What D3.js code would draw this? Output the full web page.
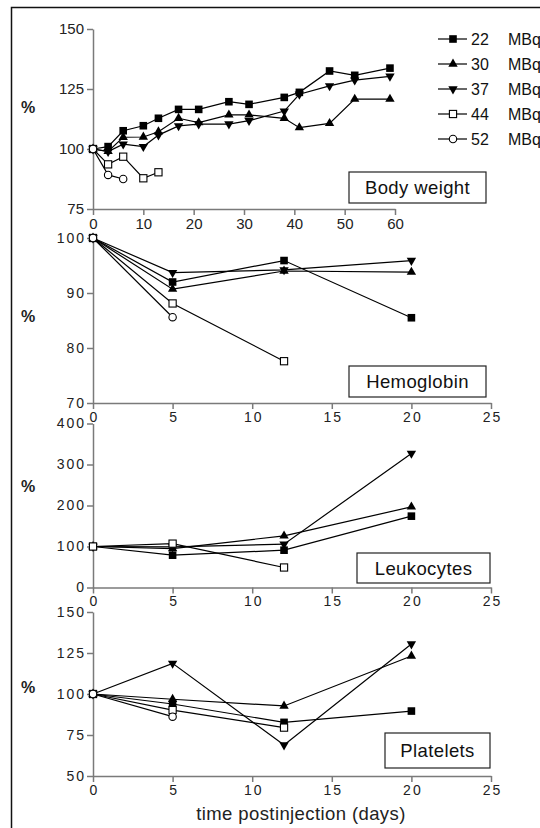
<!DOCTYPE html>
<html>
<head>
<meta charset="utf-8">
<script src="https://cdn.jsdelivr.net/npm/d3@7"></script>
<style>
  body { margin: 0; background: #fff; }
  svg { display: block; font-family: Arial, "Liberation Sans", sans-serif; }
  .axis path, .axis line { stroke: #7a7a7a; stroke-width: 1.5; }
  .axis text { fill: #222; }
</style>
</head>
<body>
<div id="chart"></div>
<script>
// dose groups (MBq)
var doses = ["22", "30", "37", "44", "52"];

// body weight, days postinjection
var bwDays = [0, 3, 6, 10, 13, 17, 21, 27, 31, 38, 41, 47, 52, 59];
var bw22 = [100, 101, 107.6, 109.7, 112.8, 116.5, 116.5, 119.7, 118.6, 121.5, 123.6, 132.5, 130.7, 133.7];
var bw30 = [100, 99, 104.9, 105, 107.2, 112.8, 111, 114.2, 114.2, 112.8, 108.9, 110.7, 120.8, 120.8];
var bw37 = [100, 98.9, 102, 101, 105.8, 109.6, 110.4, 110.4, 111.8, 115.8, 122.8, 126.3, 128.7, 130.3];
var bw44 = [100, 93.6, 96.8, 87.8, 90.3];
var bw52 = [100, 89.2, 87.5];

// blood values, days postinjection
var bloodDays = [0, 5, 12, 20];
var hb22 = [100, 92, 95.9, 85.5];
var hb30 = [100, 90.7, 94, 93.8];
var hb37 = [100, 93.7, 94.2, 95.9];
var hb44 = [100, 88.1, 77.6];
var hb52 = [100, 85.6];

var lk22 = [100, 78.8, 91, 174];
var lk30 = [100, 95, 126, 196.7];
var lk37 = [100, 99, 105.6, 327];
var lk44 = [100, 107, 48.8];

var pl22 = [100, 93.9, 82.7, 89.6];
var pl30 = [100, 96.8, 92.7, 123.2];
var pl37 = [100, 118.7, 68.9, 130.5];
var pl44 = [100, 90.2, 79.5];
var pl52 = [100, 86.2];

// tick labels
var bwXTicks = [0, 10, 20, 30, 40, 50, 60];
var bwYTicks = [75, 100, 125, 150];
var bloodXTicks = [0, 5, 10, 15, 20, 25];
var hbYTicks = [70, 80, 90, 100];
var lkYTicks = [0, 100, 200, 300, 400];
var plYTicks = [50, 75, 100, 125, 150];

var svgWidth = 540, svgHeight = 828;
var svg = d3.select("#chart").append("svg")
  .attr("width", svgWidth)
  .attr("height", svgHeight);

// outer frame (runs off the right and bottom edges)
svg.append("rect")
  .attr("x", 11.5).attr("y", 7.5)
  .attr("width", 600).attr("height", 900)
  .attr("fill", "none").attr("stroke", "#111").attr("stroke-width", 1.5);

// marker shapes per dose
function drawMarker(g, dose, x, y) {
  if (dose === "22") {
    g.append("rect").attr("x", x - 3.8).attr("y", y - 3.8).attr("width", 7.6).attr("height", 7.6).attr("fill", "#000");
  } else if (dose === "30") {
    g.append("path").attr("d", d3.symbol().type(d3.symbolTriangle).size(38)())
      .attr("transform", `translate(${x},${y})`).attr("fill", "#000");
  } else if (dose === "37") {
    g.append("path").attr("d", d3.symbol().type(d3.symbolTriangle).size(38)())
      .attr("transform", `translate(${x},${y}) rotate(180)`).attr("fill", "#000");
  } else if (dose === "44") {
    g.append("rect").attr("x", x - 3.6).attr("y", y - 3.6).attr("width", 7.2).attr("height", 7.2)
      .attr("fill", "#fff").attr("stroke", "#000").attr("stroke-width", 1.1);
  } else {
    g.append("circle").attr("cx", x).attr("cy", y).attr("r", 3.7)
      .attr("fill", "#fff").attr("stroke", "#000").attr("stroke-width", 1.1);
  }
}

function panel(opt) {
  var g = svg.append("g");
  var x = d3.scaleLinear().domain(opt.xDomain).range(opt.xRange);
  var y = d3.scaleLinear().domain(opt.yDomain).range(opt.yRange);

  g.append("g").attr("class", "axis")
    .attr("transform", `translate(0,${opt.yRange[0]})`)
    .call(d3.axisBottom(x).tickValues(opt.xTicks).tickSize(6).tickSizeOuter(0).tickPadding(3))
    .selectAll("text").attr("dx", opt.spacing / 2);
  g.append("g").attr("class", "axis")
    .attr("transform", `translate(${opt.xRange[0]},0)`)
    .call(d3.axisLeft(y).tickValues(opt.yTicks).tickSize(6).tickSizeOuter(0).tickPadding(3 - opt.spacing));
  g.selectAll(".axis text")
    .style("font-size", opt.fontSize + "px")
    .style("letter-spacing", opt.spacing + "px");

  // % label
  g.append("text")
    .attr("x", 28).attr("y", opt.pctY)
    .attr("text-anchor", "middle")
    .style("font-size", "16px").style("font-weight", "bold").attr("fill", "#222")
    .text("%");

  var line = d3.line().x(d => x(d[0])).y(d => y(d[1]));
  opt.series.forEach(function(s) {
    var pts = s.values.map((v, i) => [opt.days[i], v]);
    g.append("path").datum(pts)
      .attr("d", line)
      .attr("fill", "none").attr("stroke", "#000").attr("stroke-width", 1.2);
  });
  opt.series.forEach(function(s) {
    s.values.forEach(function(v, i) {
      drawMarker(g, s.dose, x(opt.days[i]), y(v));
    });
  });

  // name box
  var b = opt.box;
  g.append("rect")
    .attr("x", b[0]).attr("y", b[1]).attr("width", b[2]).attr("height", b[3])
    .attr("fill", "#fff").attr("stroke", "#222").attr("stroke-width", 1.2);
  g.append("text")
    .attr("x", b[0] + b[2] / 2).attr("y", b[1] + b[3] / 2 + 6.5)
    .attr("text-anchor", "middle")
    .style("font-size", "18.5px").style("letter-spacing", "0.4px").attr("fill", "#111")
    .text(opt.title);
}

panel({
  title: "Body weight", days: bwDays,
  xDomain: [0, 60], xRange: [93, 395], yDomain: [75, 150], yRange: [209, 29],
  xTicks: bwXTicks, yTicks: bwYTicks, fontSize: 15, spacing: 0, pctY: 113,
  box: [349, 172, 137, 31],
  series: [
    { dose: "22", values: bw22 }, { dose: "30", values: bw30 }, { dose: "37", values: bw37 },
    { dose: "44", values: bw44 }, { dose: "52", values: bw52 }
  ]
});

panel({
  title: "Hemoglobin", days: bloodDays,
  xDomain: [0, 25], xRange: [93, 491], yDomain: [70, 100], yRange: [403, 238],
  xTicks: bloodXTicks, yTicks: hbYTicks, fontSize: 14, spacing: 2, pctY: 322,
  box: [349, 366, 137, 31],
  series: [
    { dose: "22", values: hb22 }, { dose: "30", values: hb30 }, { dose: "37", values: hb37 },
    { dose: "44", values: hb44 }, { dose: "52", values: hb52 }
  ]
});

panel({
  title: "Leukocytes", days: bloodDays,
  xDomain: [0, 25], xRange: [93, 491], yDomain: [0, 400], yRange: [587.5, 423.5],
  xTicks: bloodXTicks, yTicks: lkYTicks, fontSize: 14, spacing: 2, pctY: 492,
  box: [357, 553, 133, 30],
  series: [
    { dose: "22", values: lk22 }, { dose: "30", values: lk30 }, { dose: "37", values: lk37 },
    { dose: "44", values: lk44 }
  ]
});

panel({
  title: "Platelets", days: bloodDays,
  xDomain: [0, 25], xRange: [93, 491], yDomain: [50, 150], yRange: [776, 612],
  xTicks: bloodXTicks, yTicks: plYTicks, fontSize: 14, spacing: 2, pctY: 693,
  box: [385, 733, 105, 35],
  series: [
    { dose: "22", values: pl22 }, { dose: "30", values: pl30 }, { dose: "37", values: pl37 },
    { dose: "44", values: pl44 }, { dose: "52", values: pl52 }
  ]
});

// x axis title
svg.append("text")
  .attr("x", 301).attr("y", 820)
  .attr("text-anchor", "middle")
  .style("font-size", "18.5px").style("letter-spacing", "0.4px").attr("fill", "#222")
  .text("time postinjection (days)");

// legend
var legend = svg.append("g");
doses.forEach(function(d, i) {
  var ly = 39 + i * 25;
  legend.append("line")
    .attr("x1", 438).attr("x2", 467).attr("y1", ly).attr("y2", ly)
    .attr("stroke", "#000").attr("stroke-width", 1.2);
  drawMarker(legend, d, 453, ly);
  legend.append("text").attr("x", 471).attr("y", ly + 6)
    .style("font-size", "16px").attr("fill", "#111").text(d);
  legend.append("text").attr("x", 508).attr("y", ly + 6)
    .style("font-size", "16px").attr("fill", "#111").text("MBq");
});
</script>
</body>
</html>
